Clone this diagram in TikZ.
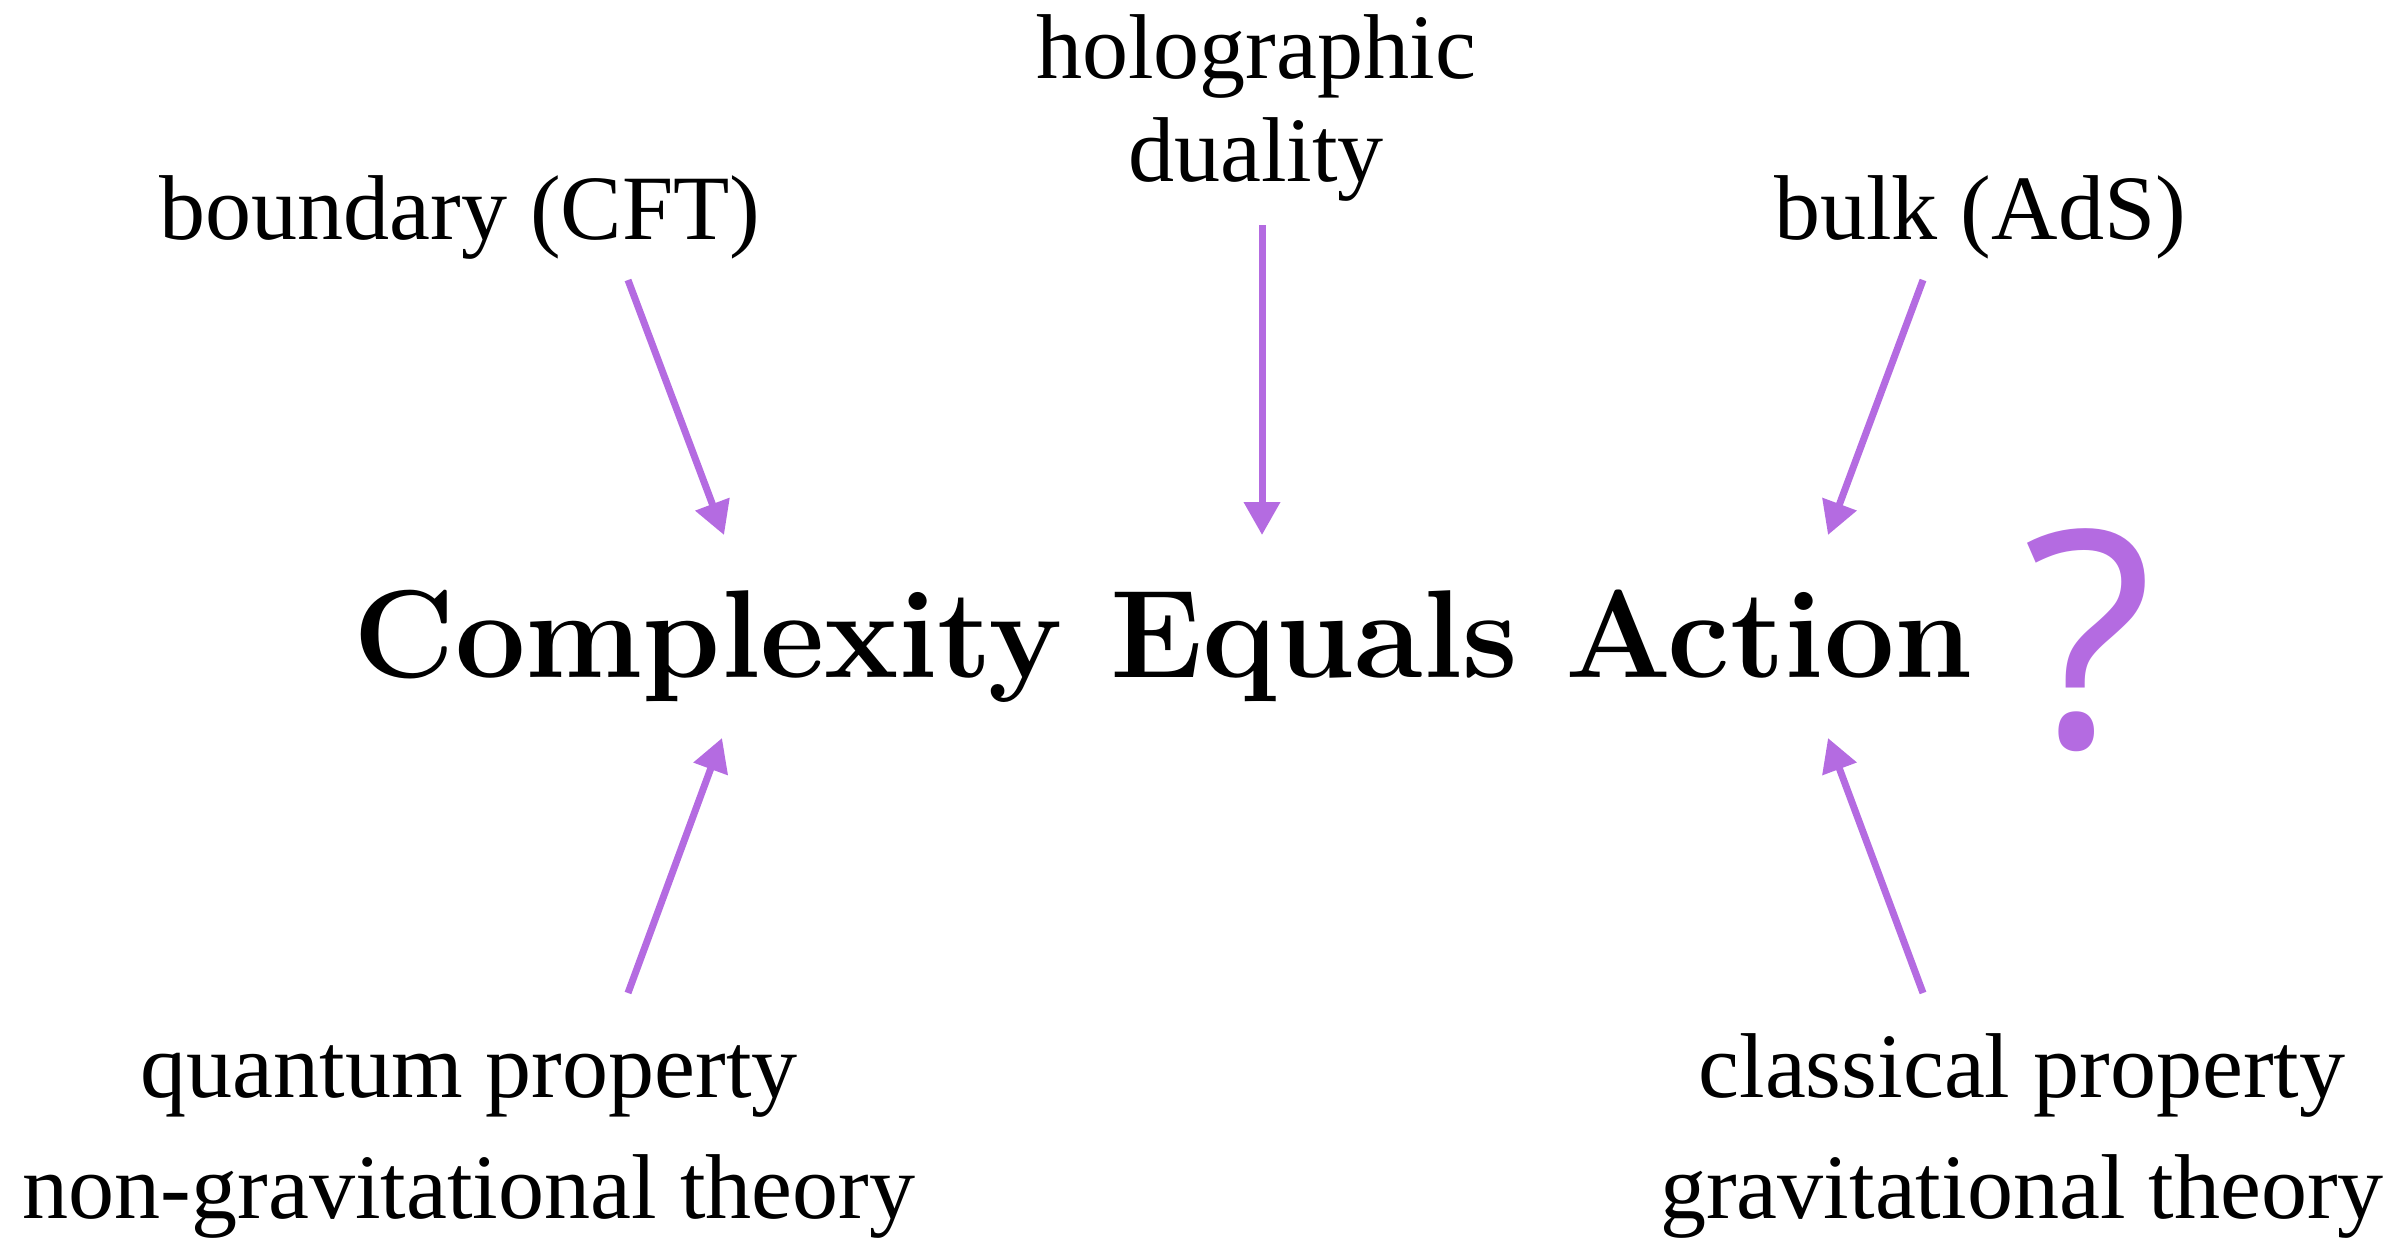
\documentclass[tikz,border=0pt]{standalone}
\usepackage{fontspec}
\usetikzlibrary{arrows.meta}
\newfontfamily\labelfont{Liberation Serif}
\newfontfamily\markfont{Open Sans}
\definecolor{lilac}{RGB}{180,107,225}

\tikzset{
  lbl/.style={font=\labelfont\fontsize{26.2}{34.4}\selectfont, align=center, inner sep=0pt, anchor=base},
  pointer/.style={draw=lilac, line width=2pt, -{Triangle[width=0.35cm, length=0.33cm]}}
}

\begin{document}
\begin{tikzpicture}
  \useasboundingbox (0,0) rectangle (24.02,12.43);

  % The statement in the middle
  \node[font=\fontsize{35.6}{40}\selectfont\bfseries, inner sep=0pt, anchor=base] (cea) at (11.63,5.66) {Complexity Equals Action};
  \node[font=\markfont\fontsize{86}{90}\selectfont, text=lilac, inner sep=0pt, anchor=base] (qmark) at (20.88,4.96) {?};

  % Labels round it
  \node[lbl] (cft) at (4.60,10.04) {boundary (CFT)};
  \node[lbl] (ads) at (19.80,10.04) {bulk (AdS)};
  \node[lbl, font=\labelfont\fontsize{26.2}{29.5}\selectfont] (holo) at (12.56,10.61) {holographic\\duality};
  \node[lbl] (quant) at (4.69,0.25) {quantum property\\non-gravitational theory};
  \node[lbl] (class) at (20.22,0.25) {classical property\\gravitational theory};

  % Ends of the arrows
  \coordinate (cftTail) at (6.28,9.63);
  \coordinate (cftTip) at (7.24,7.08);
  \coordinate (holoTail) at (12.62,10.18);
  \coordinate (holoTip) at (12.62,7.08);
  \coordinate (adsTail) at (19.23,9.63);
  \coordinate (adsTip) at (18.28,7.08);
  \coordinate (quantTail) at (6.28,2.50);
  \coordinate (quantTip) at (7.22,5.05);
  \coordinate (classTail) at (19.23,2.50);
  \coordinate (classTip) at (18.28,5.05);

  \foreach \a/\b in {cftTail/cftTip, holoTail/holoTip, adsTail/adsTip, quantTail/quantTip, classTail/classTip} {
    \draw[pointer] (\a) -- (\b);
  }
\end{tikzpicture}
\end{document}
